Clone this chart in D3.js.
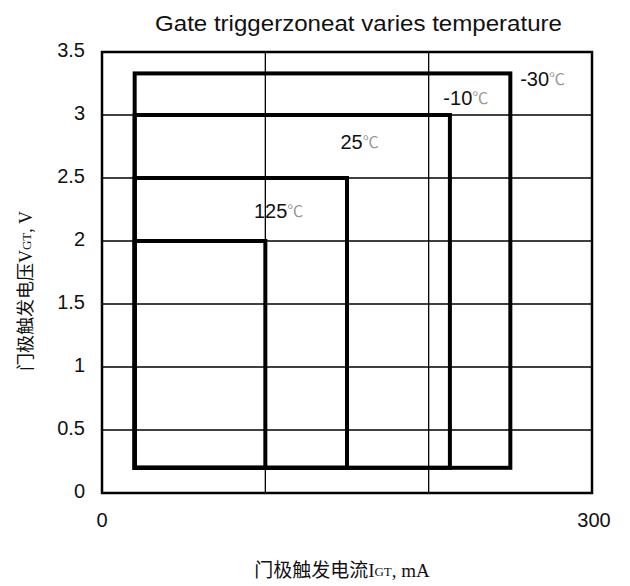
<!DOCTYPE html>
<html>
<head>
<meta charset="utf-8">
<script src="https://cdn.jsdelivr.net/npm/d3@7"></script>
<style>
  html, body { margin: 0; padding: 0; background: #fff; }
  svg { display: block; }
</style>
</head>
<body>
<svg id="chart" width="630" height="586"></svg>
<script>
// ---- data ----
const temperatures = ["125", "25", "-10", "-30"];
const igtMin = [20, 20, 20, 20];          // mA
const igtMax = [100, 150, 213, 250];      // mA
const vgtMin = [0.2, 0.2, 0.2, 0.2];      // V
const vgtMax = [2.0, 2.5, 3.0, 3.33];     // V
const yTicks = [0, 0.5, 1, 1.5, 2, 2.5, 3, 3.5];
const xGrid = [0, 100, 200, 300];
const xTickLabels = [0, 300];
const title = "Gate triggerzoneat varies temperature";

const svg = d3.select("#chart");
const m = { left: 102, right: 38, top: 52, bottom: 93 };
const W = 630, H = 586;
const x = d3.scaleLinear().domain([0, 300]).range([m.left, W - m.right]);
const y = d3.scaleLinear().domain([0, 3.5]).range([H - m.bottom, m.top]);

// grid
const g = svg.append("g");
g.selectAll(".hg").data(yTicks).join("line")
  .attr("x1", x(0)).attr("x2", x(300))
  .attr("y1", d => y(d)).attr("y2", d => y(d))
  .attr("stroke", "#000").attr("stroke-width", 1.3);
g.selectAll(".vg").data(xGrid).join("line")
  .attr("y1", y(0)).attr("y2", y(3.5))
  .attr("x1", d => x(d)).attr("x2", d => x(d))
  .attr("stroke", "#000").attr("stroke-width", 1.3);
// frame
g.append("rect")
  .attr("x", x(0)).attr("y", y(3.5))
  .attr("width", x(300) - x(0)).attr("height", y(0) - y(3.5))
  .attr("fill", "none").attr("stroke", "#000").attr("stroke-width", 2.5);

// zone rectangles
const zones = temperatures.map((t, i) => ({ t, x0: igtMin[i], x1: igtMax[i], y0: vgtMin[i], y1: vgtMax[i] }));
svg.append("g").selectAll("rect").data(zones).join("rect")
  .attr("x", d => x(d.x0)).attr("y", d => y(d.y1))
  .attr("width", d => x(d.x1) - x(d.x0))
  .attr("height", d => y(d.y0) - y(d.y1))
  .attr("fill", "none").attr("stroke", "#000").attr("stroke-width", 4);

// zone labels
const zoneLabelCoords = {
  "125": [x(93), y(2.22)],
  "25": [x(146), y(2.77)],
  "-10": [x(209), y(3.12)],
  "-30": [x(256), y(3.27)]
};
const lab = svg.append("g").selectAll("text").data(zones).join("text")
  .attr("x", d => zoneLabelCoords[d.t][0])
  .attr("y", d => zoneLabelCoords[d.t][1])
  .attr("font-family", "Liberation Sans, Arial, sans-serif")
  .attr("font-size", 20)
  .attr("dominant-baseline", "middle")
  .attr("fill", "#111");
lab.append("tspan").text(d => d.t);
lab.append("tspan").text("℃").attr("fill", "#999").attr("font-size", 16)
  .attr("font-family", "Noto Sans CJK SC, sans-serif");

// y tick labels
svg.append("g").selectAll("text").data(yTicks).join("text")
  .attr("x", 85).attr("y", d => y(d))
  .attr("text-anchor", "end").attr("dominant-baseline", "middle")
  .attr("font-family", "Liberation Sans, Arial, sans-serif")
  .attr("font-size", 20).attr("fill", "#111")
  .text(d => d);

// x tick labels
svg.append("g").selectAll("text").data(xTickLabels).join("text")
  .attr("x", d => x(d) + (d === 0 ? 0 : 2)).attr("y", 522)
  .attr("text-anchor", "middle").attr("dominant-baseline", "middle")
  .attr("font-family", "Liberation Sans, Arial, sans-serif")
  .attr("font-size", 20).attr("fill", "#111")
  .text(d => d);

// title
svg.append("text")
  .attr("x", 155).attr("y", 31)
  .attr("font-family", "Liberation Sans, Arial, sans-serif")
  .attr("font-size", 22).attr("fill", "#111")
  .attr("textLength", 407).attr("lengthAdjust", "spacingAndGlyphs")
  .text(title);

// axis titles
const serif = "Liberation Serif, 'Noto Sans CJK SC', serif";
const xt = svg.append("text")
  .attr("x", 342).attr("y", 573)
  .attr("text-anchor", "middle").attr("dominant-baseline", "middle")
  .attr("font-family", serif).attr("font-size", 19).attr("fill", "#111");
xt.append("tspan").text("门极触发电流I");
xt.append("tspan").text("GT").attr("font-size", 13);
xt.append("tspan").text(", mA");

const yt = svg.append("text")
  .attr("transform", "translate(28,291) rotate(-90)")
  .attr("text-anchor", "middle").attr("dominant-baseline", "middle")
  .attr("font-family", serif).attr("font-size", 18).attr("fill", "#111");
yt.append("tspan").text("门极触发电压V");
yt.append("tspan").text("GT").attr("font-size", 13);
yt.append("tspan").text(", V");
</script>
</body>
</html>
